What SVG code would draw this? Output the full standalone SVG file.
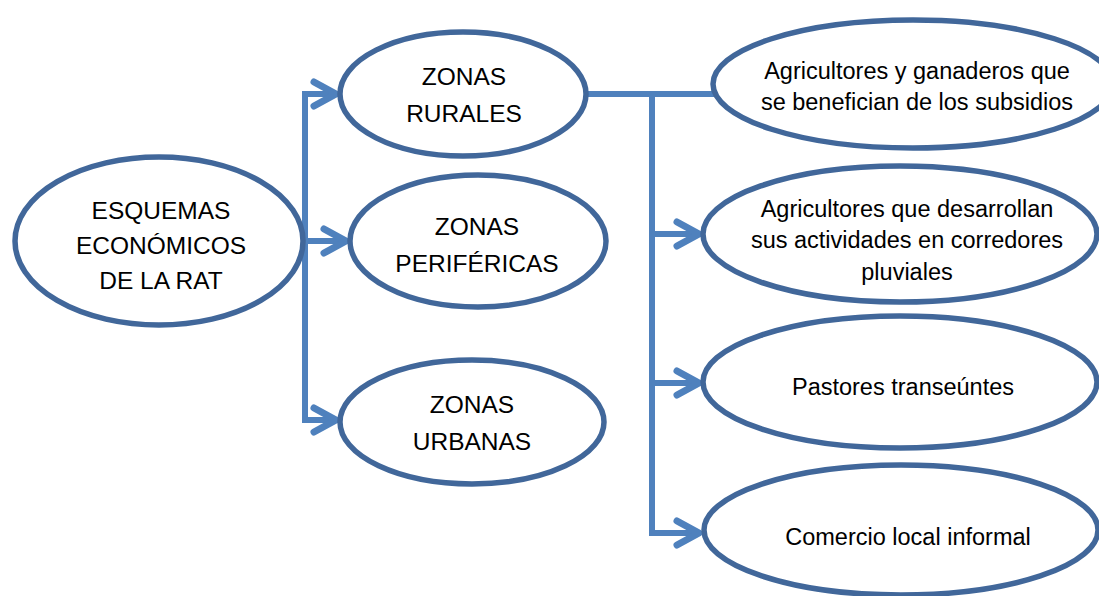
<svg xmlns="http://www.w3.org/2000/svg" width="1099" height="596" viewBox="0 0 1099 596">
<style>
.node ellipse{fill:#ffffff;stroke:#41679a;stroke-width:5.5}
.big{font-family:"Liberation Sans",Arial,sans-serif;font-size:24.5px;fill:#000;text-anchor:middle}
.small{font-family:"Liberation Sans",Arial,sans-serif;font-size:23.5px;fill:#000;text-anchor:middle}
.conn{fill:none;stroke:#4f81bd;stroke-width:6;stroke-linejoin:miter}
</style>
<defs>
<marker id="arr" markerUnits="userSpaceOnUse" markerWidth="40" markerHeight="40" viewBox="-30 -20 40 40" refX="0" refY="0" orient="auto" overflow="visible">
<path d="M-22,-12 L0,0 L-22,12" fill="none" stroke="#4f81bd" stroke-width="7" stroke-linecap="round" stroke-linejoin="round"/>
</marker>
</defs>
<rect width="1099" height="596" fill="#ffffff"/>
<g id="connectors">
<path class="conn" d="M337,94 H305 V420 H337" />
<path class="conn" d="M305,94 H336" marker-end="url(#arr)"/>
<path class="conn" d="M305,241 H346" marker-end="url(#arr)"/>
<path class="conn" d="M305,420 H336" marker-end="url(#arr)"/>
<path class="conn" d="M587,94 H715 M652,94 V533 H699"/>
<path class="conn" d="M652,234 H699" marker-end="url(#arr)"/>
<path class="conn" d="M652,383 H699" marker-end="url(#arr)"/>
<path class="conn" d="M652,533 H699" marker-end="url(#arr)"/>
</g>
<g id="n-esquemas" class="node">
<ellipse cx="159" cy="241" rx="144" ry="84"/>
<text class="big" x="161" y="219">ESQUEMAS</text>
<text class="big" x="161" y="254">ECONÓMICOS</text>
<text class="big" x="161" y="289">DE LA RAT</text>
</g>
<g id="n-rurales" class="node">
<ellipse cx="463" cy="94" rx="123" ry="62"/>
<text class="big" x="464" y="85">ZONAS</text>
<text class="big" x="464" y="122">RURALES</text>
</g>
<g id="n-perifericas" class="node">
<ellipse cx="478" cy="241" rx="128" ry="66"/>
<text class="big" x="477" y="235">ZONAS</text>
<text class="big" x="477" y="272">PERIFÉRICAS</text>
</g>
<g id="n-urbanas" class="node">
<ellipse cx="472" cy="422" rx="132" ry="62"/>
<text class="big" x="472" y="413">ZONAS</text>
<text class="big" x="472" y="450">URBANAS</text>
</g>
<g id="n-subsidios" class="node">
<ellipse cx="913" cy="84" rx="200" ry="64"/>
<text class="small" x="917" y="79">Agricultores y ganaderos que</text>
<text class="small" x="917" y="110">se benefician de los subsidios</text>
</g>
<g id="n-pluviales" class="node">
<ellipse cx="900" cy="234" rx="197" ry="68"/>
<text class="small" x="907" y="217">Agricultores que desarrollan</text>
<text class="small" x="907" y="248">sus actividades en corredores</text>
<text class="small" x="907" y="280">pluviales</text>
</g>
<g id="n-pastores" class="node">
<ellipse cx="900" cy="382" rx="197" ry="66"/>
<text class="small" x="903" y="395">Pastores transeúntes</text>
</g>
<g id="n-comercio" class="node">
<ellipse cx="901" cy="530" rx="197" ry="65"/>
<text class="small" x="908" y="545">Comercio local informal</text>
</g>
</svg>
